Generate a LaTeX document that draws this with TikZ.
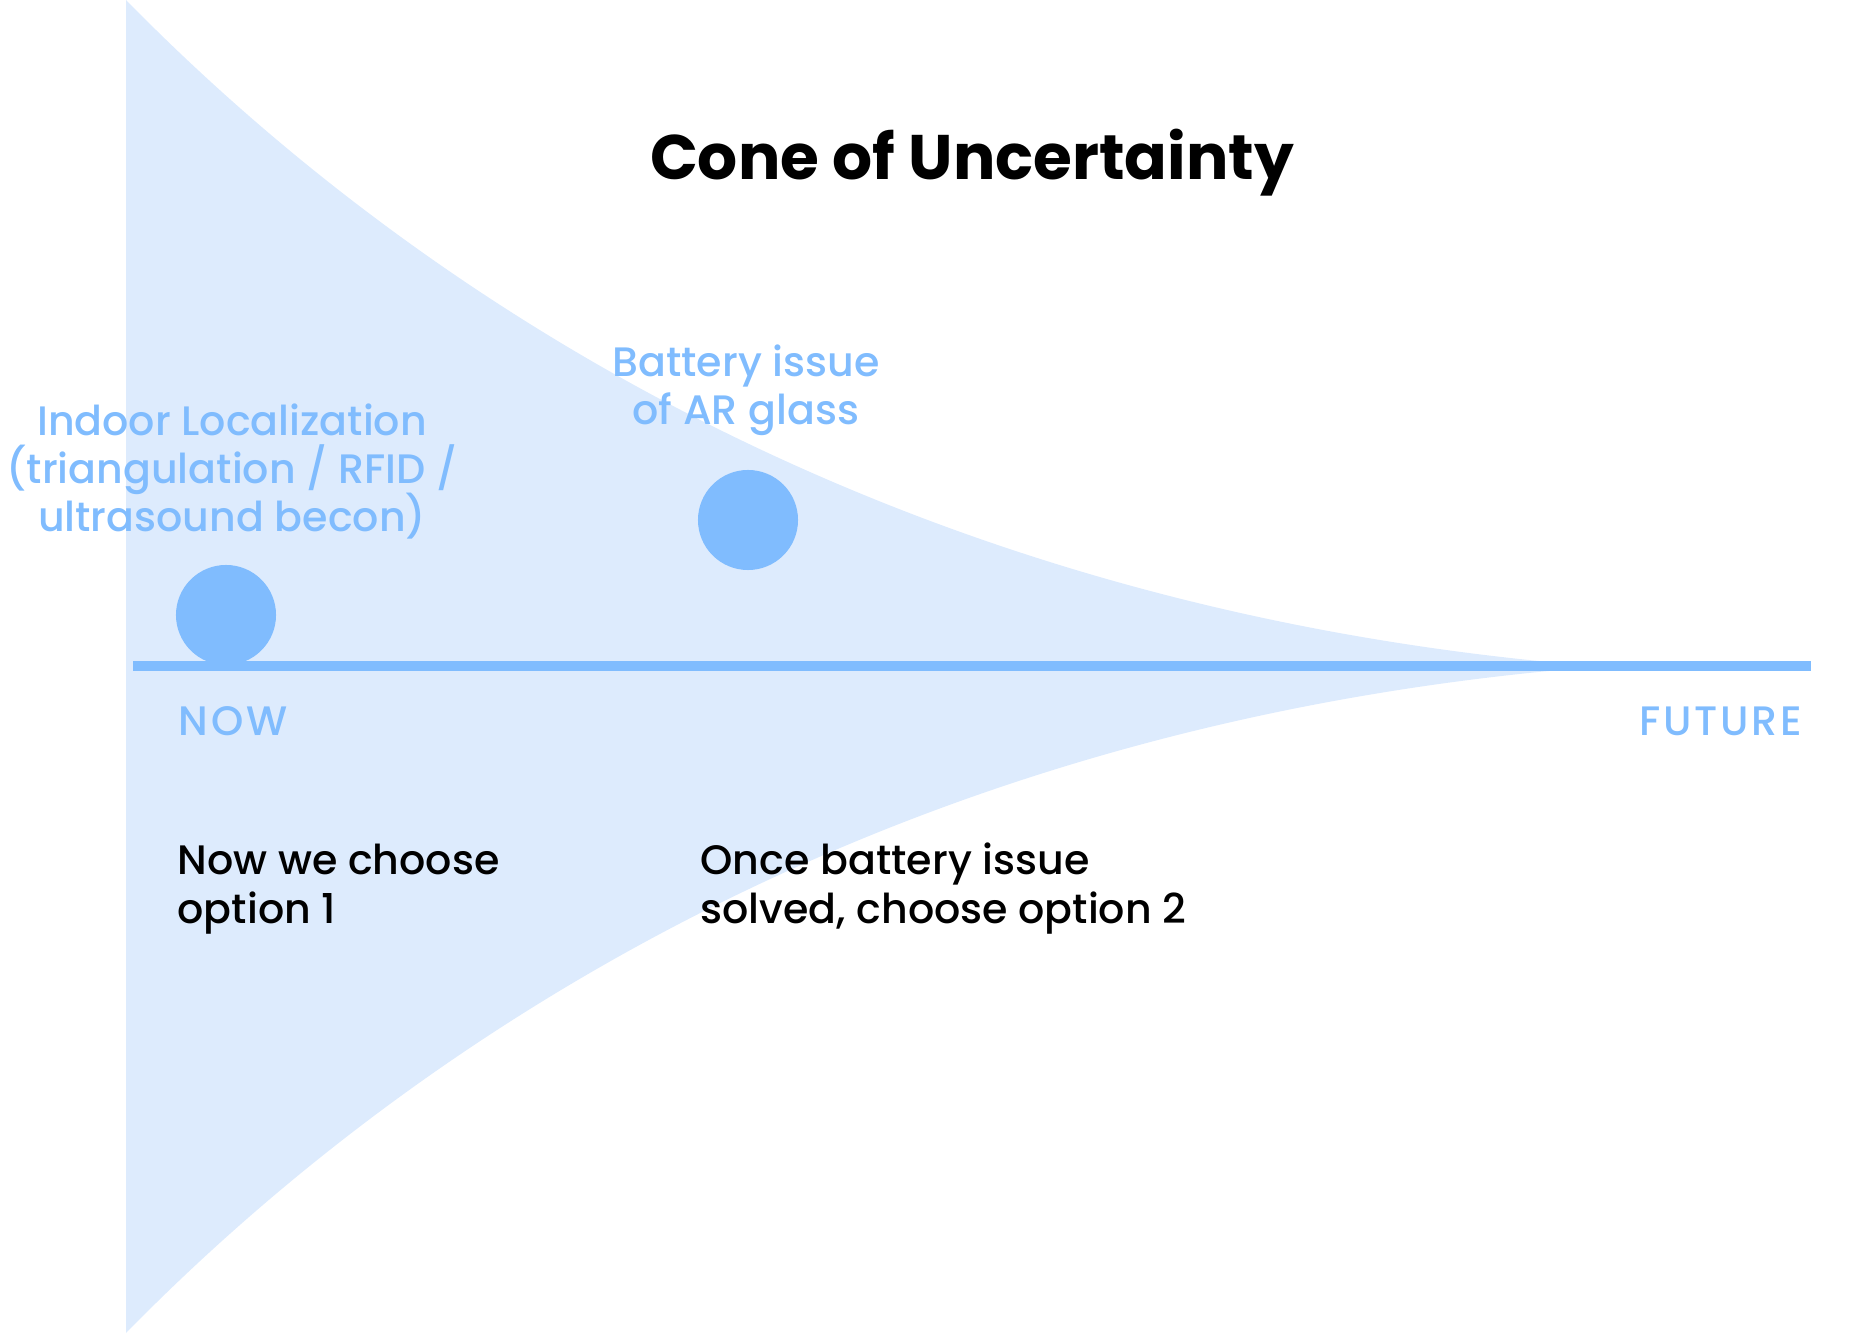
\documentclass[tikz,border=0pt]{standalone}
\usepackage{fontspec}
\setmainfont{Poppins}[UprightFont=* Medium, BoldFont=* Bold]
\definecolor{conefill}{HTML}{DDEBFD}
\definecolor{coneblue}{HTML}{80BCFE}
\begin{document}
\begin{tikzpicture}[x=0.01cm, y=-0.01cm,
	dot/.style = {circle, fill = coneblue, minimum size = 1cm, inner sep = 0pt},
	bluetext/.style = {text = coneblue, inner sep = 0pt, align = center, font = \fontsize{11.7}{13.7}\selectfont\lineskiplimit-100pt\relax},
	captext/.style = {text = coneblue, inner sep = 0pt, font = \fontsize{11.7}{13.7}\selectfont\addfontfeature{LetterSpace=7}},
	blacktext/.style = {text = black, inner sep = 0pt, align = left, font = \fontsize{11.7}{13.7}\selectfont\lineskiplimit-100pt\relax}]
	\useasboundingbox (0,0) rectangle (1860,1334);
	% the cone
	\fill [conefill] (126,0) .. controls (420,300) and (900,612) .. (1600,666.5)
		.. controls (900,721) and (420,1033) .. (126,1333) -- cycle;
	% time line
	\coordinate (start) at (133,666);
	\coordinate (end) at (1811,666);
	\draw [coneblue, line width = 0.1cm] (start) -- (end);
	\node [dot] (opt1) at (226,615) {};
	\node [dot] (opt2) at (748,520) {};
	\node [anchor = base, inner sep = 0pt, font = \bfseries\fontsize{17.9}{20}\selectfont] (title) at (972,180) {Cone of Uncertainty};
	\node [bluetext, anchor = base] (battery) at (746,425) {Battery issue\\of AR glass};
	\node [bluetext, anchor = base] (indoor) at (232,532) {Indoor Localization\\(triangulation / RFID /\\ultrasound becon)};
	\node [captext, anchor = base west] (now) at (178,736) {NOW};
	\node [captext, anchor = base east] (future) at (1803,736) {FUTURE};
	\node [blacktext, anchor = base west] (choice1) at (177,923) {Now we choose\\option 1};
	\node [blacktext, anchor = base west] (choice2) at (700,923) {Once battery issue\\solved, choose option 2};
\end{tikzpicture}
\end{document}
